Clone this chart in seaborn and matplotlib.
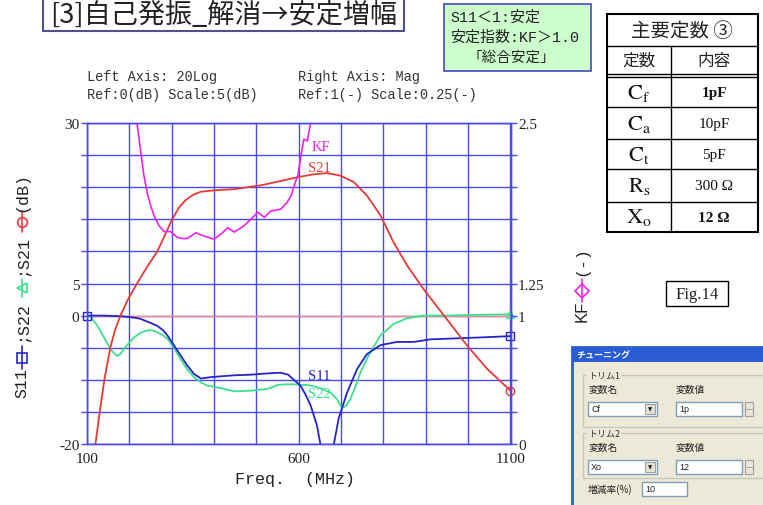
import matplotlib
matplotlib.use("Agg")
import matplotlib.pyplot as plt
import seaborn as sns
from matplotlib.patches import Rectangle
from matplotlib.lines import Line2D

# ---- data ----
s21_f = [100, 110, 120, 130, 141, 155, 166, 179, 195, 218, 242, 266, 285, 301, 318, 333, 350, 369,
         400, 448, 511, 560, 600, 635, 667, 698, 730, 761, 793, 824, 856, 895, 943, 998, 1045, 1100]
s21_db = [-34, -27, -20, -15, -10, -5, -2.3, 0, 2.3, 5, 7.6, 10, 12.7, 15, 16.9, 18, 18.8, 19.3,
          19.5, 19.7, 20.3, 21.0, 21.6, 22.0, 22.2, 21.8, 20.8, 18.7, 15.6, 11.4, 7.8, 4.1, 0, -4.7, -8.3, -11.7]

s11_f = [100, 140, 179, 210, 226, 245, 266, 280, 290, 305, 321, 337, 353, 369, 390, 408, 448, 487,
         527, 557, 575, 590, 604, 616, 628, 643, 651, 660, 670, 683, 694, 714, 738, 761, 793, 832,
         872, 911, 950, 990, 1029, 1100]
s11_db = [0, 0, -0.1, -0.3, -0.5, -1.0, -1.6, -2.3, -3.1, -4.6, -6.2, -7.8, -9.1, -9.8, -9.6, -9.5, -9.3, -9.2,
          -9.0, -8.9, -9.2, -10.1, -10.9, -12.3, -14, -17.1, -20, -25, -25, -20, -16.1, -12, -8.3, -6, -4.6, -4.1,
          -4.1, -3.7, -3.6, -3.5, -3.4, -3.2]

s22_f = [100, 110, 124, 135, 147, 160, 171, 180, 187, 200, 211, 226, 242, 255, 266, 278, 290, 305, 321,
         337, 353, 369, 384, 400, 416, 448, 487, 527, 550, 570, 590, 604, 620, 635, 655, 675, 690, 702,
         712, 722, 734, 746, 769, 793, 824, 856, 895, 950, 998, 1100]
s22_db = [0, -0.3, -1.5, -2.8, -4.2, -5.6, -6.3, -5.9, -5.2, -4.2, -3.4, -2.7, -2.3, -2.3, -2.6, -3.0, -3.6, -5.0, -6.8,
          -8.4, -9.6, -10.4, -10.9, -11.1, -11.3, -11.8, -11.7, -11.4, -10.8, -10.7, -10.7, -10.8, -10.8, -11.0, -11.4, -12.0, -13.0, -14.4,
          -14.0, -13.0, -11.0, -8.8, -5.7, -3.1, -1.3, -0.4, 0.0, 0.0, 0.1, 0.2]

kf_f = [205, 212, 218, 226, 234, 242, 250, 258, 270, 282, 297, 313, 325, 337, 357, 376, 400, 420,
        432, 448, 471, 490, 503, 519, 534, 545, 558, 572, 582, 592, 598, 604, 612, 620, 628, 640]
kf_val = [3.3, 2.85, 2.5, 2.3, 2.1, 1.96, 1.86, 1.78, 1.7, 1.655, 1.655, 1.61, 1.6, 1.6, 1.645, 1.62, 1.595, 1.645,
          1.685, 1.65, 1.7, 1.76, 1.805, 1.765, 1.815, 1.82, 1.83, 1.88, 1.935, 2.04, 2.09, 2.22, 2.375, 2.36, 2.5, 2.9]

x_ticks = list(range(100, 1101, 100))
x_labels = ["100", "", "", "", "", "600", "", "", "", "", "1100"]
y_ticks = list(range(-20, 31, 5))
y_labels = ["-20", "", "", "", "0", "5", "", "", "", "", "30"]
r_ticks = [i * 0.25 for i in range(11)]
r_labels = ["0", "", "", "", "1", "1.25", "", "", "", "", "2.5"]

table_rows = [("C", "f", "1pF", True), ("C", "a", "10pF", False), ("C", "t", "5pF", False),
              ("R", "s", "300 Ω", False), ("X", "o", "12 Ω", True)]

# ---- style ----
sns.set_style("white")
plt.rcParams["font.family"] = ["Liberation Serif", "Noto Sans CJK JP", "DejaVu Sans"]
plt.rcParams["mathtext.fontset"] = "stix"

BLUE = "#4a4aee"
C_S21, C_S11, C_S22, C_KF = "#e83838", "#2424c8", "#3ce08c", "#ee22ee"
CJK = ["Noto Sans CJK JP", "DejaVu Sans"]
SJP = ["Liberation Serif", "Noto Sans CJK JP"]
MONO = ["Liberation Mono", "DejaVu Sans Mono"]
MJP = ["Liberation Mono", "Noto Sans CJK JP"]

W, H = 763, 506
fig = plt.figure(figsize=(W / 100, H / 100), dpi=100)
fig.patch.set_facecolor("white")

ax = fig.add_axes([87 / W, 1 - 445 / H, (510.5 - 87) / W, (445 - 124) / H])
ax2 = ax.twinx()

# curves
ax.axhline(0, color="#f08c8c", lw=1, zorder=1)
sns.lineplot(x=s22_f, y=s22_db, ax=ax, color=C_S22, lw=1.3)
sns.lineplot(x=s11_f, y=s11_db, ax=ax, color=C_S11, lw=1.3)
sns.lineplot(x=s21_f, y=s21_db, ax=ax, color=C_S21, lw=1.3)
sns.lineplot(x=kf_f, y=kf_val, ax=ax2, color=C_KF, lw=1.2)

# end markers
ax.plot([s11_f[0], s11_f[-1]], [s11_db[0], s11_db[-1]], ls="none", marker="s", ms=6,
        mfc="none", mec=C_S11, clip_on=False)
ax.plot([s22_f[-1]], [s22_db[-1]], ls="none", marker="^", ms=6, mfc="none", mec=C_S22, clip_on=False)
ax.plot([s21_f[-1]], [s21_db[-1]], ls="none", marker="o", ms=6, mfc="none", mec=C_S21, clip_on=False)

# curve labels
ax.text(630, 26.4, "KF", color=C_KF, fontsize=10.5, va="center")
ax.text(621, 23.1, "S21", color=C_S21, fontsize=10.5, va="center")
ax.text(621, -9.3, "S11", color=C_S11, fontsize=10.5, va="center")
ax.text(621, -12.1, "S22", color=C_S22, fontsize=10.5, va="center")

ax.set_xlim(100, 1100)
ax.set_ylim(-20, 30)
ax2.set_ylim(0, 2.5)
ax.set_xticks(x_ticks)
ax.set_xticklabels(x_labels)
ax.set_yticks(y_ticks)
ax.set_yticklabels(y_labels)
ax2.set_yticks(r_ticks)
ax2.set_yticklabels(r_labels)
ax.grid(True, color=BLUE, lw=1)
for a in (ax, ax2):
    a.tick_params(direction="out", length=4, width=1, color=BLUE, labelsize=11,
                  labelcolor="#222222", pad=1.5)
    for sp in a.spines.values():
        sp.set_color(BLUE)
        sp.set_linewidth(1)
ax.set_xlabel("Freq.  (MHz)", fontsize=12, family=MONO, color="#222222")
ax.xaxis.set_label_coords(0.49, -0.085)
ax.set_ylabel("")
ax2.set_ylabel("")

# ---- overlay in pixel coordinates ----
ov = fig.add_axes([0, 0, 1, 1], zorder=5)
ov.set_xlim(0, W)
ov.set_ylim(H, 0)
ov.axis("off")
ov.patch.set_alpha(0)

# title box
ov.add_patch(Rectangle((43, -3), 361, 35, fc="white", ec="#50508c", lw=1.5))
ov.text(50, 15, "[3]自己発振_解消→安定増幅", family=CJK, fontsize=19.5, va="center", color="#222222")

# axis headers
ov.text(87, 77, "Left Axis: 20Log", family=MONO, fontsize=9.8, va="center", color="#333333")
ov.text(87, 95, "Ref:0(dB) Scale:5(dB)", family=MONO, fontsize=9.8, va="center", color="#333333")
ov.text(298, 77, "Right Axis: Mag", family=MONO, fontsize=9.8, va="center", color="#333333")
ov.text(298, 95, "Ref:1(-) Scale:0.25(-)", family=MONO, fontsize=9.8, va="center", color="#333333")

# green note box
ov.add_patch(Rectangle((444, 5), 147, 67, fc="#ccffcc", ec="#4848c0", lw=1.2))
ov.text(450, 18, "S11＜1:安定", family=MJP, fontsize=10.8, va="center", color="#222222")
ov.text(450, 38, "安定指数:KF＞1.0", family=MJP, fontsize=10.8, va="center", color="#222222")
ov.text(511, 58, "「総合安定」", family=MJP, fontsize=10.5, va="center", ha="center", color="#222222")

# constants table
ov.add_patch(Rectangle((607, 15), 151, 218, fc="white", ec="black", lw=1.5))
for yy in (47, 75, 78, 108, 140, 170, 203):
    ov.add_line(Line2D([607, 758], [yy, yy], color="black", lw=1))
ov.add_line(Line2D([671, 671], [47, 233], color="black", lw=1))
ov.text(682, 31, "主要定数 ③", family=CJK, fontsize=14, ha="center", va="center", color="#222222")
ov.text(639, 61, "定数", family=CJK, fontsize=12, ha="center", va="center", color="#222222")
ov.text(714, 61, "内容", family=CJK, fontsize=12, ha="center", va="center", color="#222222")
row_mid = [93, 124, 155, 186.5, 218]
for (sym, sub, val, bold), ym in zip(table_rows, row_mid):
    ov.text(639, ym, r"$\mathrm{%s}_\mathrm{%s}$" % (sym, sub), fontsize=16, ha="center",
            va="center", color="#111111")
    ov.text(714, ym, val, fontsize=11, ha="center", va="center", color="#111111",
            fontweight="bold" if bold else "normal")

# Fig.14 box
ov.add_patch(Rectangle((666, 282), 62, 25, fc="white", ec="black", lw=1))
ov.text(697, 295, "Fig.14", fontsize=12, ha="center", va="center", color="#222222")

# left y label with legend symbols
ov.text(22, 383.5, "S11", family=MONO, fontsize=12, rotation=90, ha="center", va="center", color="#222222")
ov.text(22, 322.5, ";S22", family=MONO, fontsize=12, rotation=90, ha="center", va="center", color="#222222")
ov.text(22, 256.5, ";S21", family=MONO, fontsize=12, rotation=90, ha="center", va="center", color="#222222")
ov.text(22, 192, "(dB)", family=MONO, fontsize=12, rotation=90, ha="center", va="center", color="#222222")
for (y0, y1, mk, col) in [(347, 370, "s", C_S11), (280, 298, "<", C_S22), (212, 233, "o", C_S21)]:
    ov.add_line(Line2D([22, 22], [y0, y1], color=col, lw=1.2))
    ov.add_line(Line2D([22], [(y0 + y1) / 2], marker=mk, ms=7, mfc="none", mec=col, mew=1.2))

# right y label
ov.text(582, 311, "KF", family=["Liberation Sans"], fontsize=12, rotation=90, ha="center", va="center",
        color="#222222")
ov.text(582, 261.5, "(-)", family=MONO, fontsize=12, rotation=90, ha="center", va="center", color="#222222")
ov.add_line(Line2D([582, 582], [280, 303], color=C_KF, lw=1.2))
ov.add_line(Line2D([582], [291.5], marker="D", ms=7, mfc="none", mec=C_KF, mew=1.2))

# tuning dialog screenshot
DLG = "#ece9d8"
ov.add_patch(Rectangle((572, 348), 200, 170, fc=DLG, ec="#2a5cd6", lw=2))
ov.add_patch(Rectangle((572, 348), 200, 15, fc="#2a5cd6", ec="none"))
ov.text(576, 355.5, "チューニング", family=CJK, fontsize=6.5, color="white", va="center", fontweight="bold")


def group(y0, y1, title, name, value):
    ov.add_patch(Rectangle((583, y0), 190, y1 - y0, fc="none", ec="#c8c6b4", lw=1))
    ov.text(588, y0, title, family=CJK, fontsize=6.5, va="center", color="#333333",
            bbox=dict(fc=DLG, ec="none", pad=0.5))
    ov.text(589, y0 + 14, "変数名", family=CJK, fontsize=7, va="center", color="#222222")
    ov.text(676, y0 + 14, "変数値", family=CJK, fontsize=7, va="center", color="#222222")
    yb = y0 + 27
    ov.add_patch(Rectangle((588, yb), 69, 14, fc="white", ec="#7f9db9", lw=1))
    ov.text(591, yb + 7, name, family=["Liberation Sans"], fontsize=6.5, va="center", color="#222222")
    ov.add_patch(Rectangle((645, yb + 2), 10, 10, fc="#e4e2d6", ec="#a0a0a0", lw=0.8))
    ov.text(650, yb + 7, "▼", family=["DejaVu Sans"], fontsize=4, ha="center", va="center", color="#222222")
    ov.add_patch(Rectangle((676, yb), 66, 14, fc="white", ec="#7f9db9", lw=1))
    ov.text(679, yb + 7, value, family=["Liberation Sans"], fontsize=6.5, va="center", color="#222222")
    ov.add_patch(Rectangle((745, yb), 8, 14, fc="#e8e6da", ec="#a0a0a0", lw=0.8))
    ov.add_line(Line2D([745, 753], [yb + 7, yb + 7], color="#a0a0a0", lw=0.6))


group(376, 428, "トリム1", "Cf", "1p")
group(434, 479, "トリム2", "Xo", "12")
ov.text(588, 490, "増減率(%)", family=CJK, fontsize=7, va="center", color="#222222")
ov.add_patch(Rectangle((642, 483), 45, 14, fc="white", ec="#7f9db9", lw=1))
ov.text(645, 490, "10", family=["Liberation Sans"], fontsize=6.5, va="center", color="#222222")

fig.savefig("out.png", dpi=100, facecolor="white")
